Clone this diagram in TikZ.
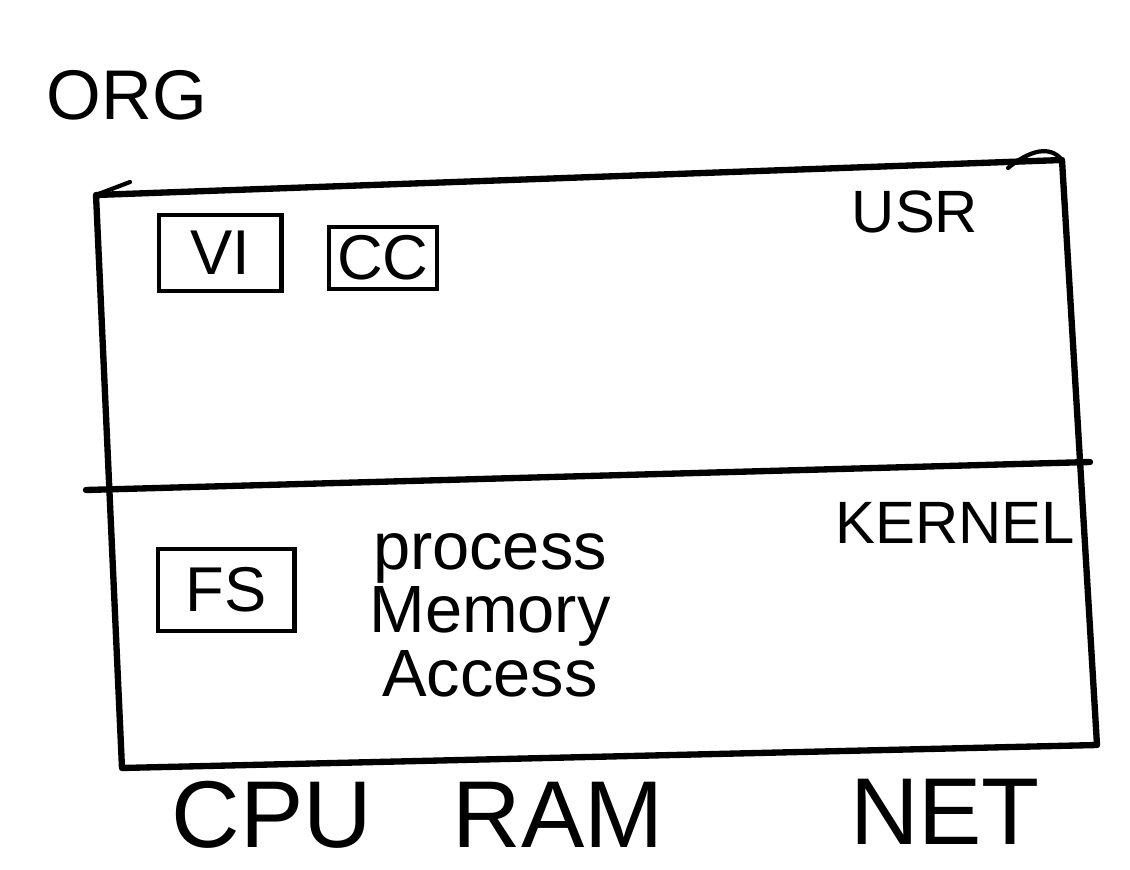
\documentclass[tikz,border=0pt]{standalone}
\usepackage{fontspec}
\setmainfont{Liberation Sans}
\begin{document}
\begin{tikzpicture}[x=0.01cm, y=-0.01cm,
  every node/.style={inner sep=0pt, align=center},
  frame/.style={draw, line width=1.8pt, line join=round, line cap=round},
  toolbox/.style={draw, line width=1.4pt, font=\fontsize{18}{18}\selectfont},
  layerlabel/.style={font=\fontsize{17}{17}\selectfont},
  hwlabel/.style={font=\fontsize{27}{27}\selectfont},
]
\useasboundingbox (0,0) rectangle (1130,870);
% outer machine box
\coordinate (tl) at (96,195);
\coordinate (tr) at (1062,160);
\coordinate (br) at (1097,745);
\coordinate (bl) at (122,768);
\coordinate (ml) at (86,490);
\coordinate (mr) at (1090,462);
\draw[frame] (tl) -- (tr) -- (br) -- (bl) -- cycle;
\draw[frame] (ml) -- (mr);
\draw[frame, line width=1.2pt] (tl) -- (130,182);
\draw[frame, line width=1.2pt] (1008,168) .. controls (1030,150) and (1050,145) .. (tr);
% labels
\node (org) at (127,95) {\fontsize{20}{20}\selectfont ORG};
\node[layerlabel] (usr) at (915,212) {USR};
\node[layerlabel] (kernel) at (955,523) {KERNEL};
% user space
\node[toolbox, minimum width=1.22cm, minimum height=0.76cm] (vi) at (220,253) {VI};
\node[toolbox, minimum width=1.08cm, minimum height=0.62cm] (cc) at (383,258) {CC};
% kernel space
\node[toolbox, minimum width=1.36cm, minimum height=0.82cm] (fs) at (226,590) {FS};
\node[font=\fontsize{19}{17}\selectfont] (pma) at (490,615) {process\\Memory\\Access};
% hardware
\node[hwlabel] (cpu) at (272,815) {CPU};
\node[hwlabel] (ram) at (558,815) {RAM};
\node[hwlabel] (net) at (945,812) {NET};
\end{tikzpicture}
\end{document}
